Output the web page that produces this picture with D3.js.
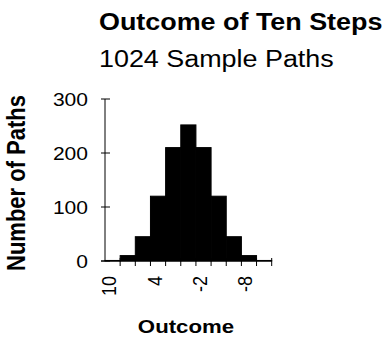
<!DOCTYPE html>
<html><head><meta charset="utf-8">
<script src="https://cdn.jsdelivr.net/npm/d3@7"></script>
<style>body{margin:0;background:#fff}svg{display:block}text{font-family:"Liberation Sans",Arial,sans-serif;fill:#000}</style>
</head><body><svg id="c" width="387" height="338"></svg>
<script>
const categories = ["10","8","6","4","2","0","-2","-4","-6","-8","-10"];
const counts = [1,10,45,120,210,252,210,120,45,10,1];
const tickLabels = ["10","4","-2","-8"];
const yTicks = [0,100,200,300];

const svg = d3.select("#c");
const SX = 1.17;
const x = d3.scaleBand().domain(categories).range([105, 271.7]).padding(0);
const y = d3.scaleLinear().domain([0,300]).range([261, 99]);

// bars
svg.append("g").selectAll("rect").data(categories).join("rect")
  .attr("x", d => x(d)).attr("width", x.bandwidth())
  .attr("y", (d,i) => y(counts[i])).attr("height", (d,i) => y(0) - y(counts[i]))
  .attr("fill", "#000").attr("stroke", "#000").attr("stroke-width", 1);

// y axis
const ga = svg.append("g");
ga.append("line").attr("x1",105).attr("x2",105).attr("y1",y(300)).attr("y2",y(0)).attr("stroke","#000").attr("stroke-width",1);
ga.selectAll("line.yt").data(yTicks).join("line").attr("class","yt")
  .attr("x1",101).attr("x2",110).attr("y1",d=>y(d)).attr("y2",d=>y(d)).attr("stroke","#000");
ga.selectAll("text.yl").data(yTicks).join("text").attr("class","yl")
  .attr("text-anchor","end").attr("font-size",18)
  .attr("transform",d=>`translate(88,${y(d)+6.5}) scale(${SX},1)`).text(d=>d);

// x axis
ga.append("line").attr("x1",101).attr("x2",271.7).attr("y1",y(0)).attr("y2",y(0)).attr("stroke","#000");
const edges = categories.map(c => x(c)).concat([x.range()[1]]);
ga.selectAll("line.xt").data(edges.slice(1)).join("line").attr("class","xt")
  .attr("x1",d=>d).attr("x2",d=>d).attr("y1",y(0)-3).attr("y2",y(0)+5).attr("stroke","#000");
ga.selectAll("text.xl").data(tickLabels).join("text").attr("class","xl")
  .attr("text-anchor","end").attr("font-size",18)
  .attr("transform",d=>`translate(${x(d)+x.bandwidth()/2+3.5},276) scale(${SX},1) rotate(-90)`).text(d=>d);

// titles
svg.append("text").attr("font-size",23).attr("font-weight","bold")
  .attr("transform",`translate(99,30) scale(${SX},1)`).text("Outcome of Ten Steps");
svg.append("text").attr("font-size",23)
  .attr("transform",`translate(99,67) scale(${SX},1)`).text("1024 Sample Paths");
svg.append("text").attr("font-size",22).attr("font-weight","bold").attr("text-anchor","middle")
  .attr("transform",`translate(25,183) scale(${SX},1) rotate(-90)`).text("Number of Paths");
svg.append("text").attr("font-size",19).attr("font-weight","bold").attr("text-anchor","middle")
  .attr("transform",`translate(186,333) scale(${SX},1)`).text("Outcome");
</script></body></html>
